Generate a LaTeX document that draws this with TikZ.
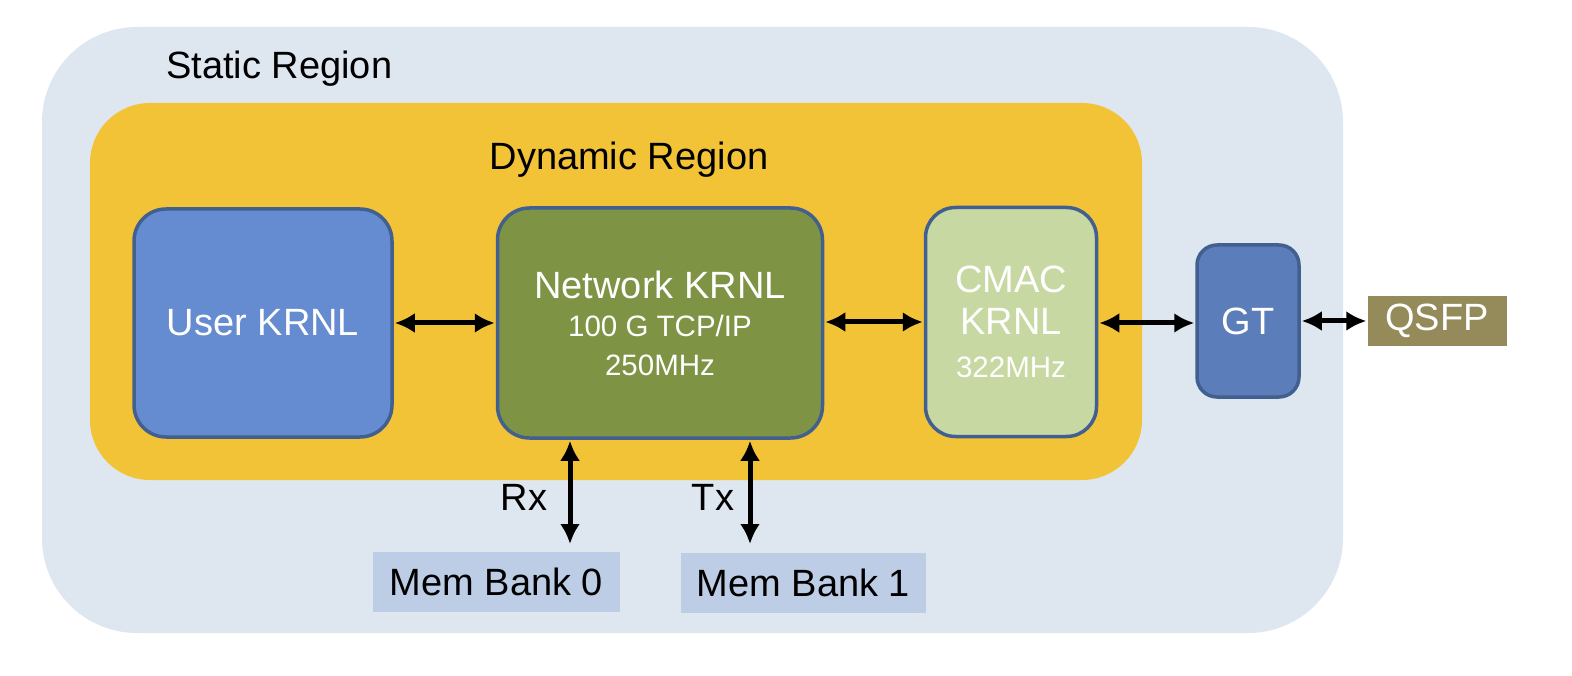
\documentclass[tikz,border=0pt]{standalone}
\usepackage{fontspec}
\setmainfont{Liberation Sans}
\usetikzlibrary{arrows.meta}
\definecolor{staticc}{HTML}{DEE6F0}
\definecolor{dync}{HTML}{F2C337}
\definecolor{userc}{HTML}{658BD0}
\definecolor{netc}{HTML}{7E9343}
\definecolor{cmacc}{HTML}{C8D8A2}
\definecolor{gtc}{HTML}{5B7EBA}
\definecolor{qsfpc}{HTML}{948A5A}
\definecolor{memc}{HTML}{BDCDE5}
\definecolor{bordc}{HTML}{41608F}
\newcommand{\bigtxt}{\fontsize{38}{45}\selectfont}
\newcommand{\smalltxt}{\fontsize{29.5}{36}\selectfont}
\tikzset{
  kbox/.style={draw=bordc, line width=3.5pt, rounded corners=32pt, text=white, align=center, inner sep=0pt, font=\bigtxt},
  flatbox/.style={inner sep=0pt, font=\bigtxt},
  lbl/.style={inner sep=0pt, font=\bigtxt, anchor=base},
  dbl/.style={line width=5pt, {Latex[length=20pt,width=20pt]}-{Latex[length=20pt,width=20pt]}, shorten <=1pt, shorten >=1pt}
}
\begin{document}
\begin{tikzpicture}[x=1pt,y=-1pt]
\useasboundingbox (0,0) rectangle (1572,676);
% regions
\fill[staticc, rounded corners=95pt] (42,27) rectangle (1343,633);
\fill[dync, rounded corners=60pt] (90,103) rectangle (1142,480);
\node[lbl, anchor=base west] (stlbl) at (166,79) {Static Region};
\node[lbl] (dynlbl) at (629,170) {Dynamic Region};
% kernels
\node[kbox, fill=userc, minimum width=258pt, minimum height=228pt] (user) at (263,323) {User KRNL};
\node[kbox, fill=netc, minimum width=325pt, minimum height=230pt] (net) at (660,323) {Network KRNL\\[-7pt]{\smalltxt 100 G TCP/IP}\\[-6pt]{\smalltxt 250MHz}};
\node[kbox, fill=cmacc, minimum width=171pt, minimum height=229pt, rounded corners=30pt] (cmac) at (1011,322) {CMAC\\[-3pt]KRNL\\[-2pt]{\smalltxt 322MHz}};
\node[kbox, fill=gtc, minimum width=102pt, minimum height=152pt, rounded corners=20pt] (gt) at (1248,321) {GT};
\node[flatbox, fill=qsfpc, text=white, minimum width=139pt, minimum height=50pt] (qsfp) at (1437,321) {QSFP};
\node[flatbox, fill=memc, minimum width=247pt, minimum height=60pt] (mem0) at (496.5,582) {Mem Bank 0};
\node[flatbox, fill=memc, minimum width=245pt, minimum height=60pt] (mem1) at (803.5,582.5) {Mem Bank 1};
% connectors
\draw[dbl] (user.east |- 0,323) -- (net.west |- 0,323);
\draw[dbl] (net.east |- 0,322) -- (cmac.west |- 0,322);
\draw[dbl] (cmac.east |- 0,323) -- (gt.west |- 0,323);
\draw[dbl] (gt.east |- 0,321) -- (qsfp.west |- 0,321);
\coordinate (rxend) at (570,545);
\coordinate (txend) at (750,545);
\draw[dbl] (net.south -| rxend) -- (rxend);
\draw[dbl] (net.south -| txend) -- (txend);
\node[lbl] (rx) at (524,510) {Rx};
\node[lbl] (tx) at (713,510) {Tx};
\end{tikzpicture}
\end{document}
